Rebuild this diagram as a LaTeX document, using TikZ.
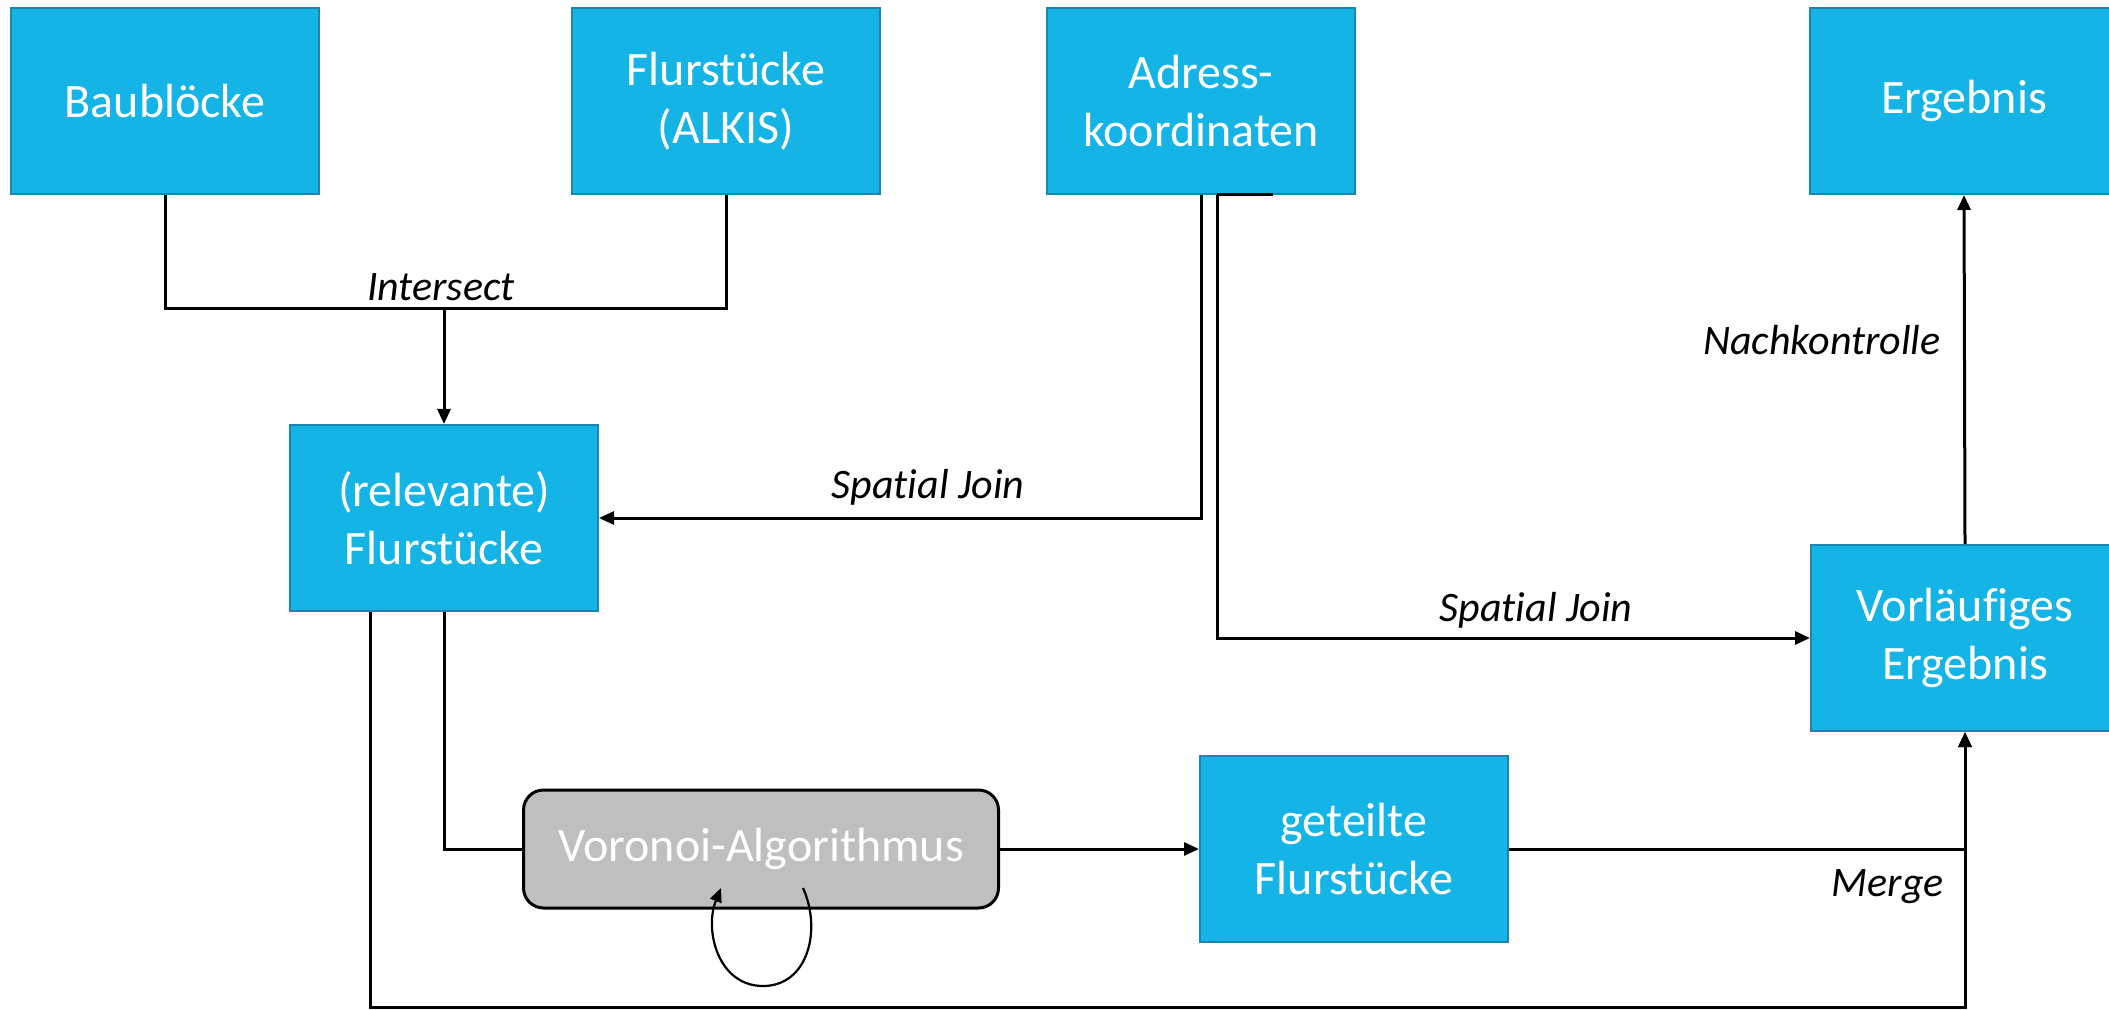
\documentclass[tikz,border=0pt]{standalone}
\usepackage{fontspec}
\setmainfont[Ligatures={NoCommon}]{Carlito}
\usetikzlibrary{arrows.meta}
\definecolor{boxblue}{RGB}{21,180,230}
\definecolor{boxedge}{RGB}{25,135,175}
\definecolor{vorgray}{RGB}{191,191,191}
\begin{document}
\begin{tikzpicture}[x=0.5pt,y=-0.5pt,
  bluebox/.style={rectangle, fill=boxblue, draw=boxedge, line width=1pt,
    minimum width=154pt, minimum height=93pt, inner sep=0pt,
    text=white, align=center, font=\fontsize{24}{29}\selectfont},
  procbox/.style={rectangle, rounded corners=10pt, fill=vorgray, draw=black,
    line width=1.5pt, minimum width=237.5pt, minimum height=59pt, inner sep=0pt,
    text=white, font=\fontsize{24}{29}\selectfont},
  conn/.style={draw=black, line width=1.5pt},
  arr/.style={conn, -{Triangle[length=7.5pt,width=6.5pt]}},
  lbl/.style={font=\fontsize{21}{25}\selectfont\itshape, text=black, inner sep=0pt}]
\useasboundingbox (0,0) rectangle (2109,1010);

\node[bluebox] (baub) at (165,101) {\raisebox{-2pt}{Baublöcke}};
\node[bluebox] (alkis) at (726,101) {Flurstücke\\(ALKIS)};
\node[bluebox] (adress) at (1201,101) {Adress-\\koordinaten};
\node[bluebox] (erg) at (1964,101) {\raisebox{-2pt}{Ergebnis}};
\node[bluebox] (relev) at (444,518) {(relevante)\\Flurstücke};
\node[procbox] (vor) at (761,849) {Voronoi-Algorithmus};
\node[bluebox] (geteilt) at (1354,849) {geteilte\\Flurstücke};
\node[bluebox] (vorl) at (1965,638) {Vorläufiges\\Ergebnis};

\coordinate (isect) at (444,309);
\coordinate (bot) at (1965,1007);

% Intersect
\draw[conn] (baub.south) |- (isect) -| (alkis.south);
\draw[arr] (isect) -- (relev.north);
\node[lbl] (lisect) at (441,287) {Intersect};

% Spatial joins
\draw[arr] (adress.south) |- (relev.east);
\node[lbl] (lsj1) at (928,487) {Spatial Join};
\draw[arr] ([xshift=8pt]adress.south) |- (vorl.west);
\draw[conn] ([xshift=8pt]adress.south) -- ([xshift=36pt]adress.south);
\node[lbl] (lsj2) at (1536,610) {Spatial Join};

% Voronoi
\draw[conn] (relev.south) |- (vor.west);
\draw[arr] (vor.east) -- (geteilt.west);
\draw[line width=1.1pt, -{Triangle[length=7pt,width=6pt]}]
  (803,888) .. controls (822,930) and (808,986) .. (763,986)
  .. controls (718,986) and (704,930) .. (721,888);

% Merge
\draw[arr] (geteilt.east) -| (vorl.south);
\draw[arr] ([xshift=-37pt]relev.south) |- (bot) -- (vorl.south);
\node[lbl, anchor=east] (lmerge) at (1944,887) {Merge};

% Nachkontrolle
\draw[arr] (vorl.north) -- (erg.south);
\node[lbl, anchor=east] (lnach) at (1941,340) {Nachkontrolle};
\end{tikzpicture}
\end{document}
